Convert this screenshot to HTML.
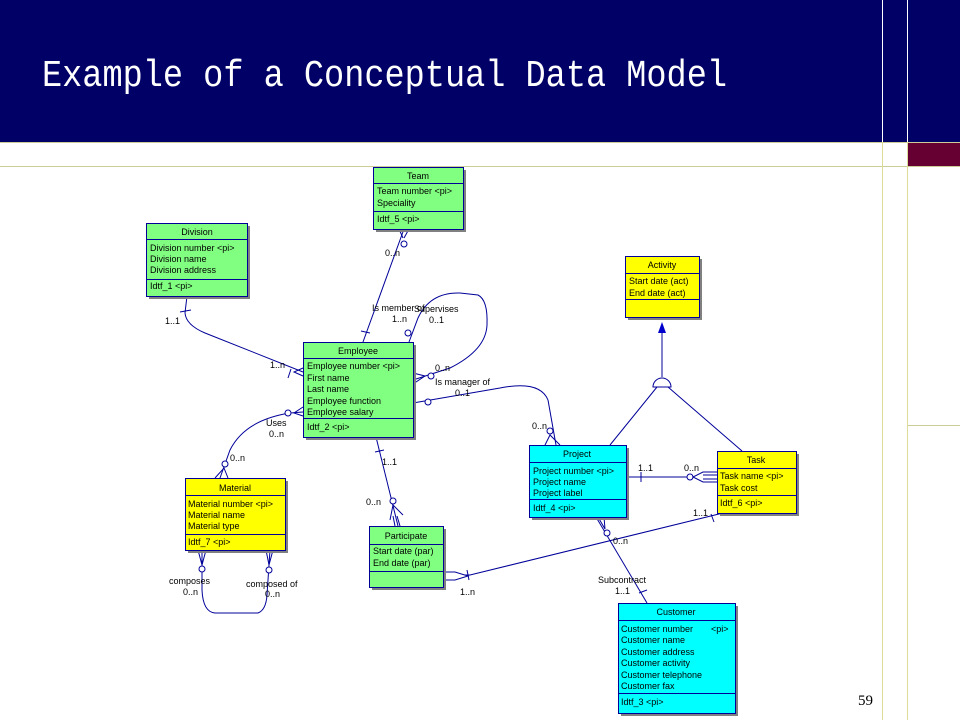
<!DOCTYPE html>
<html><head><meta charset="utf-8"><style>
html,body{margin:0;padding:0;background:#fff;width:960px;height:720px;overflow:hidden}
svg{display:block}
text{font-family:"Liberation Sans",sans-serif;font-size:9px;fill:#000}
.c{text-anchor:middle}
.l{fill:none;stroke:#000099;stroke-width:1}
.b{stroke:#000099;stroke-width:1}
.s{fill:#808080}
</style></head><body>
<svg width="960" height="720" viewBox="0 0 960 720">
<rect x="0" y="0" width="960" height="142" fill="#000066"/>
<line x1="882.5" y1="0" x2="882.5" y2="142" stroke="#ffffff" stroke-width="1"/>
<line x1="907.5" y1="0" x2="907.5" y2="142" stroke="#ffffff" stroke-width="1"/>
<line x1="0" y1="142.5" x2="960" y2="142.5" stroke="#cccc99"/>
<line x1="0" y1="166.5" x2="960" y2="166.5" stroke="#cccc99"/>
<line x1="882.5" y1="142" x2="882.5" y2="720" stroke="#dddd99"/>
<line x1="907.5" y1="142" x2="907.5" y2="720" stroke="#dddd99"/>
<line x1="908" y1="425.5" x2="960" y2="425.5" stroke="#cccc99"/>
<rect x="908" y="143" width="52" height="23" fill="#660033"/>
<text x="42" y="86" style="font-family:'Liberation Mono',monospace;font-size:38px;fill:#fff" textLength="685" lengthAdjust="spacingAndGlyphs">Example of a Conceptual Data Model</text>
<text x="858" y="705" style="font-family:'Liberation Serif',serif;font-size:15px">59</text>

<!-- connectors -->
<g class="l">
<path d="M187,296 L185,313 Q186,325 205,333 L303,372"/>
<line x1="180" y1="312" x2="191" y2="310"/>
<line x1="291" y1="369" x2="288" y2="378"/>
<path d="M303,368 L294,372 L303,376"/>
<path d="M404,229 L363,342"/>
<line x1="399" y1="229" x2="403" y2="238"/><line x1="409" y1="229" x2="404" y2="238"/>
<circle cx="404" cy="244" r="3" fill="#fff"/>
<line x1="361" y1="331" x2="370" y2="333"/>
<path d="M409,342 L418,318 Q430,292 460,293 L478,295 Q488,300 487,325 Q486,350 450,368 L413,380"/>
<circle cx="408" cy="333" r="3" fill="#fff"/>
<circle cx="431" cy="376" r="3" fill="#fff"/>
<path d="M413,373 L425,376 L413,384"/>
<path d="M413,403 L500,388 Q540,380 548,400 L556,445"/>
<circle cx="428" cy="402" r="3" fill="#fff"/>
<circle cx="550" cy="431" r="3" fill="#fff"/>
<path d="M545,445 L550,435 L560,445"/>
<path d="M303,412 L290,413 Q245,420 230,450 L220,478"/>
<circle cx="288" cy="413" r="3" fill="#fff"/>
<path d="M303,407 L294,413 L303,416"/>
<circle cx="225" cy="464" r="3" fill="#fff"/>
<path d="M215,478 L224,468 L228,478"/>
<path d="M376,437 L398,526"/>
<line x1="375" y1="452" x2="384" y2="450"/>
<circle cx="393" cy="501" r="3" fill="#fff"/>
<path d="M390,520 L393,505 L403,515"/>
<line x1="395" y1="526" x2="393" y2="516"/><line x1="400" y1="526" x2="397" y2="516"/>
<path d="M202,550 L202,590 Q203,612 215,613 L258,613 Q266,610 267,595 L270,550"/>
<circle cx="202" cy="569" r="3" fill="#fff"/>
<circle cx="269" cy="570" r="3" fill="#fff"/>
<path d="M198,550 L202,565 L206,550"/><path d="M266,550 L269,565 L273,550"/>
<path d="M443,575 L470,575 L723,513"/>
<path d="M443,572 L455,572 L468,576 L455,580 L443,580" fill="#fff"/>
<line x1="467" y1="570" x2="469" y2="580"/>
<line x1="711" y1="514" x2="714" y2="522"/>
<path d="M626,477 L717,477"/>
<line x1="641" y1="472" x2="641" y2="482"/>
<circle cx="690" cy="477" r="3" fill="#fff"/>
<path d="M717,472 L703,472 L693,477 L703,482 L717,482" fill="#fff"/>
<line x1="703" y1="475" x2="717" y2="475"/><line x1="703" y1="479" x2="717" y2="479"/>
<path d="M596,517 L647,603"/>
<circle cx="607" cy="533" r="3" fill="#fff"/>
<path d="M598,517 L605,529 L604,517"/>
<line x1="639" y1="593" x2="647" y2="590"/>
<line x1="662" y1="330" x2="662" y2="377"/>
<path d="M653,387 A9,9 0 0 1 671,387 Z" fill="#fff"/>
<line x1="657" y1="387" x2="610" y2="445"/>
<line x1="668" y1="387" x2="742" y2="451"/>
</g>
<path d="M662,322 L658,333 L666,333 Z" fill="#0000cc"/>

<!-- entities -->
<g>
<rect class="s" x="376" y="170" width="90" height="62"/>
<rect class="b" x="373.5" y="167.5" width="90" height="62" fill="#80ff80"/>
<line class="b" x1="373" y1="183.5" x2="463" y2="183.5"/><line class="b" x1="373" y1="211.5" x2="463" y2="211.5"/>
<text class="c" x="418" y="179">Team</text>
<text x="377" y="194">Team number   &lt;pi&gt;</text><text x="377" y="206">Speciality</text><text x="377" y="222">Idtf_5   &lt;pi&gt;</text>

<rect class="s" x="149" y="226" width="101" height="73"/>
<rect class="b" x="146.5" y="223.5" width="101" height="73" fill="#80ff80"/>
<line class="b" x1="146" y1="239.5" x2="247" y2="239.5"/><line class="b" x1="146" y1="279.5" x2="247" y2="279.5"/>
<text class="c" x="197" y="235">Division</text>
<text x="150" y="251">Division number    &lt;pi&gt;</text><text x="150" y="262">Division name</text><text x="150" y="273">Division address</text><text x="150" y="289">Idtf_1   &lt;pi&gt;</text>

<rect class="s" x="306" y="345" width="110" height="95"/>
<rect class="b" x="303.5" y="342.5" width="110" height="95" fill="#80ff80"/>
<line class="b" x1="303" y1="358.5" x2="413" y2="358.5"/><line class="b" x1="303" y1="418.5" x2="413" y2="418.5"/>
<text class="c" x="358" y="354">Employee</text>
<text x="307" y="369">Employee number   &lt;pi&gt;</text><text x="307" y="381">First name</text><text x="307" y="392">Last name</text><text x="307" y="404">Employee function</text><text x="307" y="415">Employee salary</text><text x="307" y="430">Idtf_2   &lt;pi&gt;</text>

<rect class="s" x="628" y="259" width="74" height="61"/>
<rect class="b" x="625.5" y="256.5" width="74" height="61" fill="#ffff00"/>
<line class="b" x1="625" y1="273.5" x2="699" y2="273.5"/><line class="b" x1="625" y1="299.5" x2="699" y2="299.5"/>
<text class="c" x="662" y="268">Activity</text>
<text x="629" y="284">Start date (act)</text><text x="629" y="296">End date (act)</text>

<rect class="s" x="532" y="448" width="97" height="72"/>
<rect class="b" x="529.5" y="445.5" width="97" height="72" fill="#00ffff"/>
<line class="b" x1="529" y1="462.5" x2="626" y2="462.5"/><line class="b" x1="529" y1="499.5" x2="626" y2="499.5"/>
<text class="c" x="577" y="457">Project</text>
<text x="533" y="474">Project number   &lt;pi&gt;</text><text x="533" y="485">Project name</text><text x="533" y="496">Project label</text><text x="533" y="511">Idtf_4   &lt;pi&gt;</text>

<rect class="s" x="720" y="454" width="79" height="62"/>
<rect class="b" x="717.5" y="451.5" width="79" height="62" fill="#ffff00"/>
<line class="b" x1="717" y1="468.5" x2="796" y2="468.5"/><line class="b" x1="717" y1="495.5" x2="796" y2="495.5"/>
<text class="c" x="756" y="463">Task</text>
<text x="720" y="479">Task name  &lt;pi&gt;</text><text x="720" y="491">Task cost</text><text x="720" y="506">Idtf_6   &lt;pi&gt;</text>

<rect class="s" x="188" y="481" width="100" height="72"/>
<rect class="b" x="185.5" y="478.5" width="100" height="72" fill="#ffff00"/>
<line class="b" x1="185" y1="495.5" x2="285" y2="495.5"/><line class="b" x1="185" y1="534.5" x2="285" y2="534.5"/>
<text class="c" x="235" y="491">Material</text>
<text x="188" y="507">Material number   &lt;pi&gt;</text><text x="188" y="518">Material name</text><text x="188" y="529">Material type</text><text x="188" y="545">Idtf_7    &lt;pi&gt;</text>

<rect class="s" x="372" y="529" width="74" height="61"/>
<rect class="b" x="369.5" y="526.5" width="74" height="61" fill="#80ff80"/>
<line class="b" x1="369" y1="544.5" x2="443" y2="544.5"/><line class="b" x1="369" y1="571.5" x2="443" y2="571.5"/>
<text class="c" x="406" y="539">Participate</text>
<text x="373" y="554">Start date (par)</text><text x="373" y="566">End date (par)</text>

<rect class="s" x="621" y="606" width="117" height="110"/>
<rect class="b" x="618.5" y="603.5" width="117" height="110" fill="#00ffff"/>
<line class="b" x1="618" y1="620.5" x2="735" y2="620.5"/><line class="b" x1="618" y1="693.5" x2="735" y2="693.5"/>
<text class="c" x="676" y="615">Customer</text>
<text x="621" y="632">Customer number</text><text x="711" y="632">&lt;pi&gt;</text>
<text x="621" y="643">Customer name</text><text x="621" y="655">Customer address</text><text x="621" y="666">Customer activity</text><text x="621" y="678">Customer telephone</text><text x="621" y="689">Customer fax</text><text x="621" y="705">Idtf_3   &lt;pi&gt;</text>
</g>

<!-- labels -->
<g fill="#000">
<text x="165" y="324">1..1</text><text x="270" y="368">1..n</text>
<text x="385" y="256">0..n</text><text x="372" y="311">Is member of</text><text x="392" y="322">1..n</text>
<text x="414" y="312">Supervises</text><text x="429" y="323">0..1</text><text x="435" y="371">0..n</text>
<text x="435" y="385">Is manager of</text><text x="455" y="396">0..1</text><text x="532" y="429">0..n</text>
<text x="266" y="426">Uses</text><text x="269" y="437">0..n</text><text x="230" y="461">0..n</text>
<text x="382" y="465">1..1</text><text x="366" y="505">0..n</text>
<text x="169" y="584">composes</text><text x="183" y="595">0..n</text><text x="246" y="587">composed of</text><text x="265" y="597">0..n</text>
<text x="460" y="595">1..n</text><text x="693" y="516">1..1</text>
<text x="638" y="471">1..1</text><text x="684" y="471">0..n</text>
<text x="613" y="544">0..n</text><text x="598" y="583">Subcontract</text><text x="615" y="594">1..1</text>
</g>
</svg>
</body></html>
